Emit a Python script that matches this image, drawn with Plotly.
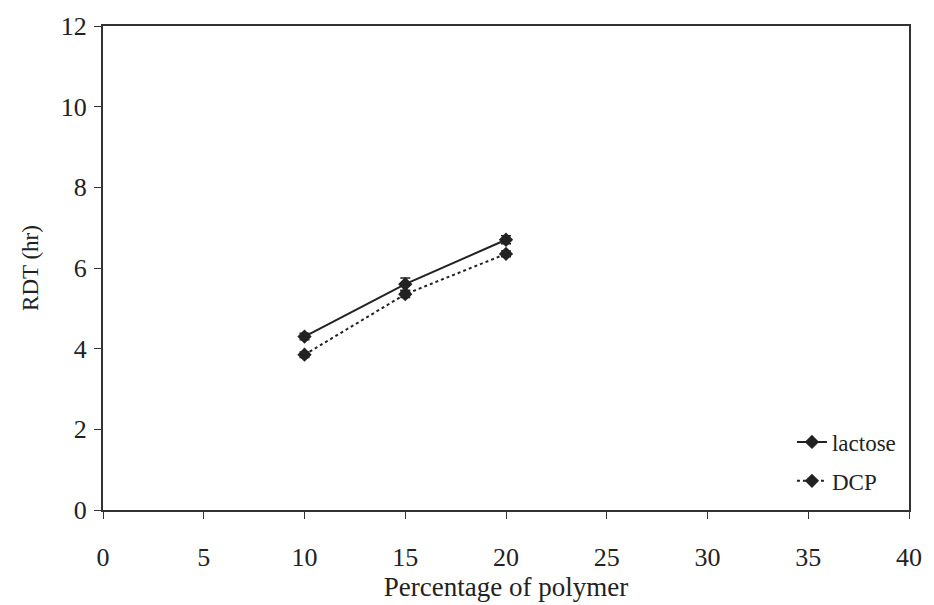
import plotly.graph_objects as go

x_vals = [10, 15, 20]
lactose = [4.3, 5.6, 6.7]
lactose_err = [0.08, 0.15, 0.1]
dcp = [3.85, 5.35, 6.35]
dcp_err = [0.07, 0.08, 0.07]
x_ticks = [0, 5, 10, 15, 20, 25, 30, 35, 40]
y_ticks = [0, 2, 4, 6, 8, 10, 12]

font_family = "Liberation Serif, Times New Roman, serif"

fig = go.Figure()
fig.add_trace(go.Scatter(
    x=x_vals, y=lactose, name="lactose", mode="lines+markers", legendgroup="a",
    line=dict(color="#222222", width=2, dash="solid"),
    marker=dict(symbol="diamond", size=11, color="#222222"),
    error_y=dict(type="data", array=lactose_err, visible=True, color="#222222", thickness=1.5, width=5),
))
fig.add_trace(go.Scatter(
    x=x_vals, y=dcp, name="DCP", mode="lines+markers", legendgroup="b",
    line=dict(color="#222222", width=2, dash="dot"),
    marker=dict(symbol="diamond", size=11, color="#222222"),
    error_y=dict(type="data", array=dcp_err, visible=True, color="#222222", thickness=1.5, width=5),
))

fig.update_layout(
    width=934, height=605,
    paper_bgcolor="white", plot_bgcolor="white",
    margin=dict(l=103, r=15, t=26, b=95),
    font=dict(family=font_family, color="#222222", size=22),
    showlegend=True,
    legend=dict(x=0.99, y=0.185, xanchor="right", yanchor="top",
                font=dict(size=23, family=font_family), bgcolor="rgba(0,0,0,0)",
                tracegroupgap=6),
    xaxis=dict(range=[0, 40], tickvals=x_ticks, ticks="outside", ticklen=7,
               tickcolor="#333333", showline=True, linecolor="#333333", linewidth=2,
               mirror=True, showgrid=False, zeroline=False,
               tickfont=dict(size=26, family=font_family), ticklabelstandoff=16,
               title=dict(text="Percentage of polymer", font=dict(size=27, family=font_family), standoff=0)),
    yaxis=dict(range=[0, 12], tickvals=y_ticks, ticks="outside", ticklen=7,
               tickcolor="#333333", showline=True, linecolor="#333333", linewidth=2,
               mirror=True, showgrid=False, zeroline=False,
               tickfont=dict(size=26, family=font_family), ticklabelstandoff=2,
               title=dict(text="RDT (hr)", font=dict(size=23, family=font_family), standoff=16)),
)

fig.write_html("out.html")
